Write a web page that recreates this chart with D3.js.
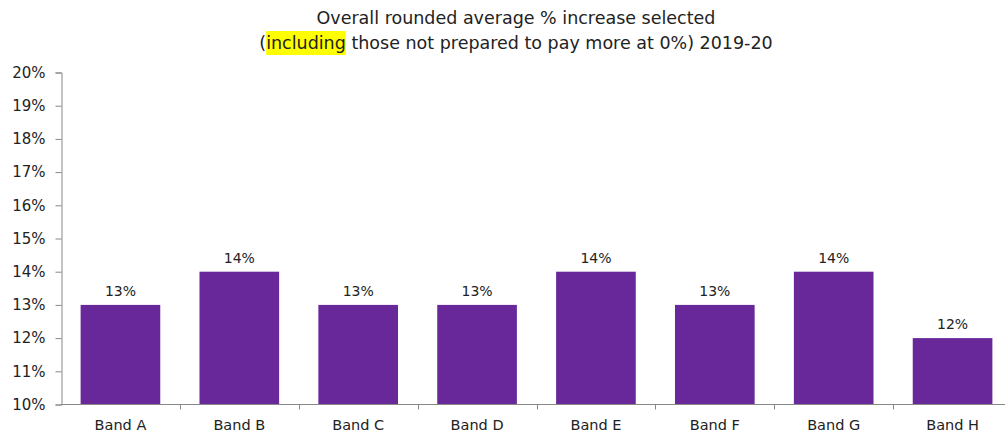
<!DOCTYPE html>
<html><head><meta charset="utf-8">
<script src="https://cdn.jsdelivr.net/npm/d3@7"></script>
<style>body{margin:0;background:#fff}svg{display:block;font-family:"DejaVu Sans",Verdana,sans-serif}</style>
</head><body><svg id="c" width="1005" height="435"></svg>
<script>
const categories = ["Band A","Band B","Band C","Band D","Band E","Band F","Band G","Band H"];
const values = [13,14,13,13,14,13,14,12];
const yTicks = [10,11,12,13,14,15,16,17,18,19,20];
const titleLine1 = "Overall rounded average % increase selected";
const titleHighlight = "including";
const titleLine2Rest = " those not prepared to pay more at 0%) 2019-20";

const svg = d3.select("#c");
const x = d3.scaleBand().domain(categories).range([61, 1012]).paddingInner(0.33).paddingOuter(0.165);
const xEdges = d3.scaleBand().domain(categories).range([61, 1012]);
const y = d3.scaleLinear().domain([10,20]).range([404.5, 72.5]);
const color = "#68289a";

// bars
svg.selectAll("rect.bar").data(values).join("rect").attr("class","bar")
  .attr("x",(d,i)=>x(categories[i])).attr("width",x.bandwidth())
  .attr("y",d=>y(d)).attr("height",d=>y(10)-y(d)).attr("fill",color);

// labels
svg.selectAll("text.val").data(values).join("text").attr("class","val")
  .attr("x",(d,i)=>x(categories[i])+x.bandwidth()/2).attr("y",d=>y(d)-9)
  .attr("text-anchor","middle").attr("font-size",14).attr("fill","#222")
  .text(d=>d+"%");

// y axis
const yAxis = d3.axisLeft(y).tickValues(yTicks).tickFormat(d=>d+"%").tickSize(6).tickPadding(10);
const gy = svg.append("g").attr("transform","translate(61.5,0)").call(yAxis);
gy.selectAll("path,line").attr("stroke","#888");
gy.selectAll("text").attr("font-size",15).attr("fill","#222").style("font-family","DejaVu Sans");

// x axis
const gx = svg.append("g").attr("transform","translate(0,404.5)");
gx.append("line").attr("x1",61).attr("x2",1005).attr("stroke","#888");
gx.selectAll("line.t").data(categories.slice(1)).join("line").attr("class","t")
  .attr("x1",d=>Math.round(xEdges(d))+0.5).attr("x2",d=>Math.round(xEdges(d))+0.5)
  .attr("y1",0).attr("y2",5).attr("stroke","#888");
gx.selectAll("text").data(categories).join("text")
  .attr("x",d=>x(d)+x.bandwidth()/2).attr("y",25).attr("text-anchor","middle")
  .attr("font-size",14.5).attr("fill","#222").text(d=>d);

// title
const cx = 516;
svg.append("text").attr("x",cx).attr("y",24).attr("text-anchor","middle")
  .attr("font-size",17.5).attr("fill","#222").text(titleLine1);
const t2 = svg.append("text").attr("x",cx).attr("y",49).attr("text-anchor","middle")
  .attr("font-size",17.5).attr("fill","#222");
t2.append("tspan").text("(");
const hl = t2.append("tspan").text(titleHighlight);
t2.append("tspan").text(titleLine2Rest);
// highlight box
const bb = (()=>{
  const n = t2.node();
  const start = n.getStartPositionOfChar(1).x;
  const end = n.getEndPositionOfChar(titleHighlight.length).x;
  return {start,end};
})();
svg.insert("rect","text").attr("x",bb.start).attr("y",31).attr("width",bb.end-bb.start).attr("height",24).attr("fill","#ffff00");
</script></body></html>
